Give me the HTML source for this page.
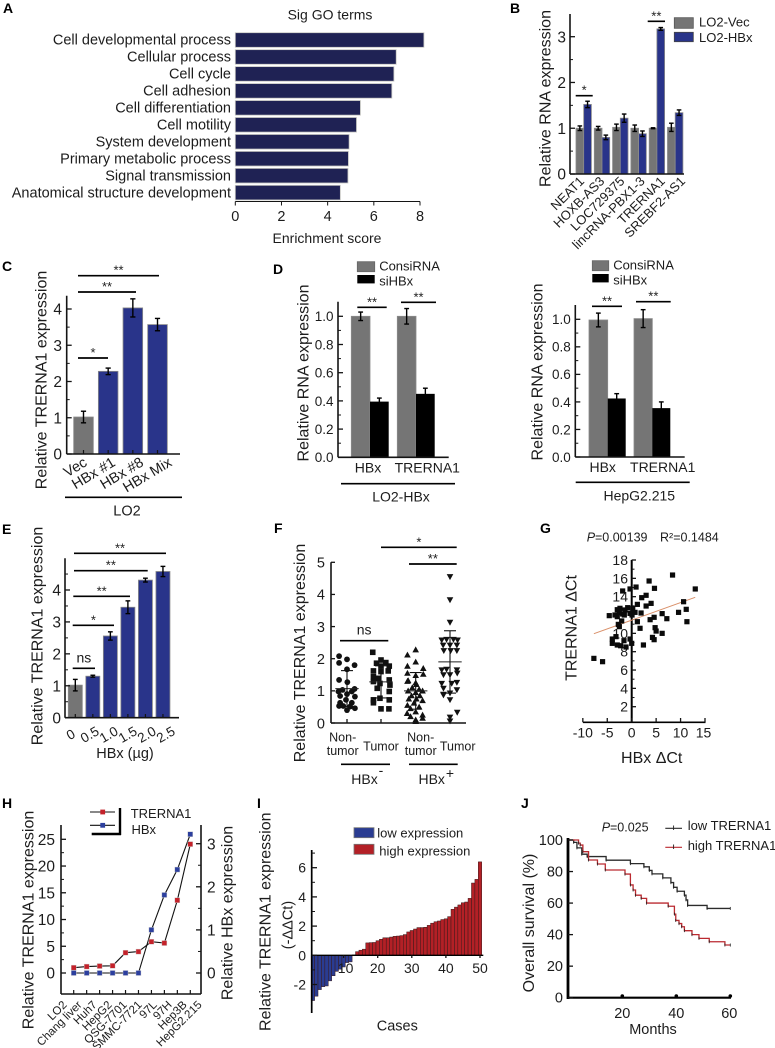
<!DOCTYPE html>
<html lang="en">
<head>
<meta charset="utf-8">
<title>TRERNA1 expression figure</title>
<style>
html,body{margin:0;padding:0;background:#fff}
svg{display:block;filter:blur(0.35px)}
text{font-family:"Liberation Sans",Arial,sans-serif;fill:#1c1c1c}
</style>
</head>
<body>
<svg id="fig" xmlns="http://www.w3.org/2000/svg" width="775" height="1048" viewBox="0 0 775 1048"></svg>
<script>
/* ---------- Panel A ---------- */
const goTerms = ["Cell developmental process","Cellular process","Cell cycle","Cell adhesion","Cell differentiation","Cell motility","System development","Primary metabolic process","Signal transmission","Anatomical structure development"];
const goScores = [8.17,6.97,6.87,6.78,5.42,5.25,4.93,4.9,4.88,4.55];
const goTicks = [0,2,4,6,8];
/* ---------- Panel B ---------- */
const rnaGenes = ["NEAT1","HOXB-AS3","LOC729375","lincRNA-PBX1-3","TRERNA1","SREBF2-AS1"];
const rnaVec = [1.0,1.0,1.02,1.0,1.0,1.02];
const rnaVecErr = [0.05,0.04,0.07,0.07,0.01,0.09];
const rnaHbx = [1.52,0.8,1.22,0.88,3.17,1.34];
const rnaHbxErr = [0.07,0.05,0.09,0.06,0.03,0.06];
const rnaTicks = [0,1,2,3];
/* ---------- Panel C ---------- */
const cLabels = ["Vec","HBx #1","HBx #8","HBx Mix"];
const cValues = [1.02,2.28,4.03,3.57];
const cErrors = [0.16,0.09,0.25,0.17];
const cTicks = [0,1,2,3,4];
/* ---------- Panel D ---------- */
const dLabels = ["HBx","TRERNA1"];
const d1Con = [1.0,1.0];
const d1ConErr = [0.03,0.055];
const d1Si = [0.395,0.45];
const d1SiErr = [0.025,0.04];
const d2Con = [0.995,1.005];
const d2ConErr = [0.05,0.065];
const d2Si = [0.425,0.355];
const d2SiErr = [0.035,0.045];
const dTicks = [0,0.2,0.4,0.6,0.8,1.0];
/* ---------- Panel E ---------- */
const eLabels = ["0","0.5","1.0","1.5","2.0","2.5"];
const eValues = [1.02,1.3,2.56,3.46,4.31,4.58];
const eErrors = [0.18,0.03,0.13,0.2,0.06,0.16];
const eTicks = [0,1,2,3,4];
/* ---------- Panel F ---------- */
const fTicks = [0,1,2,3,4,5];
const fNegNormal = [2.08,1.98,1.87,1.80,1.67,1.34,1.27,1.06,1.03,0.98,0.98,0.90,0.84,0.82,0.72,0.63,0.63,0.53,0.53,0.51,0.46,0.40];
const fNegNormalJitter = [-0.23,0,-0.23,0.22,0,-0.23,0.01,0.22,-0.13,0.14,-0.25,0,-0.2,0.23,-0.03,-0.2,0.14,-0.23,-0.11,0.09,0.23,0];
const fNegTumor = [2.20,1.96,1.86,1.88,1.77,1.77,1.62,1.62,1.60,1.44,1.39,1.34,1.29,1.23,1.18,1.08,0.98,0.77,0.72,0.72,0.63,0.44,0.44];
const fNegTumorJitter = [-0.24,0,-0.13,0.14,0.24,0,-0.22,0.21,0,-0.22,-0.08,0.24,-0.22,-0.03,0.26,-0.11,0.24,-0.03,-0.22,0.24,-0.22,0,0.23];
const fPosNormal = [2.28,2.12,1.90,1.77,1.70,1.55,1.52,1.48,1.32,1.30,1.25,1.20,1.10,1.05,1.00,1.00,0.95,0.85,0.85,0.75,0.75,0.70,0.62,0.55,0.50,0.45,0.35,0.30,0.25,0.20,0.15,0.10,0.05];
const fPosNormalJitter = [0,-0.24,0,-0.24,0.22,-0.24,0.22,0,-0.22,-0.24,0,0.02,-0.1,0.1,-0.22,0.2,0,-0.12,0.12,-0.2,0.02,0.2,-0.05,-0.24,0.1,-0.15,0,-0.25,0.2,-0.15,0.2,0,0];
const fPosTumor = [4.55,3.83,3.13,2.58,2.60,2.60,2.58,2.42,2.42,2.42,2.25,2.25,2.25,1.65,1.67,1.65,1.50,1.50,1.55,1.23,1.23,1.26,1.08,1.03,0.89,0.93,0.87,0.72,0.33,0.18,0.06];
const fPosTumorJitter = [0,0,0,-0.24,-0.1,0.1,0.22,-0.2,0,0.2,-0.18,0.02,0.2,-0.24,-0.1,0.2,-0.19,0,0.21,-0.24,0.05,0.2,-0.19,0.2,-0.19,0,-0.19,0,0.21,0,0];
const fMeans = [1.07,1.28,1.0,1.9];
const fSds = [0.56,0.5,0.57,0.97];
/* ---------- Panel G ---------- */
const gHbx = [-7.74,-5.96,-4.59,-3.97,-3.97,-3.22,-2.95,-2.26,-1.58,-1.16,-0.34,0,-1.85,-0.34,0.89,3.56,4.66,8.36,13.01,10.62,11.16,9.59,11.3,7.19,6.23,4.59,3.77,3.97,2.95,2.05,2.95,1.16,1.92,1.16,1.71,4.79,5,6.23,4.25,4.59,2.4,-2.4,-2.95,-1.37,-0.82,0.21,0.68,-0.34,-1.85,-2.53,-2.95,-2.05,-2.74,-2.53,-3.42,-1.51,0.07];
const gTrerna = [7.27,6.91,11.93,9.38,8.91,9.64,8.73,8.65,9.2,8.51,9.38,8.91,14.62,14.84,15.05,15.71,14.91,16.36,14.84,13.45,12.62,12.29,11.27,11.6,12.15,11.75,11.49,13.27,14.15,13.89,12.98,13.16,12.22,11.27,10.55,10.62,10.25,10,9.56,9.31,8.73,12.73,12.58,12.55,12.8,12.73,12.29,12.18,12.11,12.25,11.82,11.35,10.98,10.73,12,12,12];
const gFitX = [-7.74,13];
const gFitY = [9.96,13.93];
const gXTicks = [-10,-5,0,5,10,15];
const gYTicks = [2,4,6,8,10,14,16,18];
/* ---------- Panel H ---------- */
const hCells = ["LO2","Chang liver","Huh7","HepG2","QSG-7701","SMMC-7721","97L","97H","Hep3B","HepG2.215"];
const hTrerna = [1.0,1.2,1.3,1.35,3.8,4.0,5.85,5.6,13.6,24.1];
const hHbx = [0,0,0,0,0,0,1.0,1.81,2.4,3.22];
const hLeftTicks = [0,5,10,15,20,25];
const hRightTicks = [0,1,2,3];
/* ---------- Panel I ---------- */
const iValues = [-3.1,-2.8,-2.35,-2.15,-2.1,-1.75,-1.4,-1.1,-0.95,-0.8,-0.5,-0.45,0.03,0.25,0.35,0.42,0.85,0.87,0.88,1.0,1.1,1.2,1.2,1.25,1.3,1.32,1.35,1.42,1.6,1.7,1.8,1.9,1.9,1.92,2.05,2.2,2.3,2.35,2.45,2.5,2.65,3.15,3.3,3.45,3.6,3.65,3.9,4.95,5.2,6.4];
const iXTicks = [10,20,30,40,50];
const iYTicks = [-2,0,2,4,6];
/* ---------- Panel J ---------- */
const jLowMonths = [0,2,3.2,5,7,14,23,28,30,31,35,38,39,40.3,43,43.6,44.2,51.4,60];
const jLowSurvival = [100,98.5,95,91,89.5,87.2,85,83,80.7,78.5,76,73,70,67.5,65,62,58.5,56.6,56.6];
const jHighMonths = [0,3.8,4.4,5.4,7.5,10.8,13.7,21,23,24,24.9,27,29,37,39.3,39.8,41,42,43,45.8,48.4,52.2,58,60];
const jHighSurvival = [100,98,96.8,92.6,87.3,84.8,81,78.4,71.5,68.3,65,63,60,58,53,49,47,45,42.5,40,37.6,35.5,33.4,33.4];
const jXTicks = [20,40,60];
const jYTicks = [0,20,40,60,80,100];

/* ---------- helpers ---------- */
const NS = "http://www.w3.org/2000/svg";
const root = document.getElementById("fig");
let parent = root;
const INK = "#141414", GREY = "#757575", BLUE = "#29348a", EDGE = "#8a8a8a";

function make(tag, props, name) {
  const el = document.createElementNS(NS, tag);
  for (const k in props) el.setAttribute(k, props[k]);
  
  
  parent.appendChild(el);
  return el;
}
function panel(name) {
  parent = root;
  parent = make("g", {}, name);
}
function scale(d0, d1, r0, r1) {
  return v => r0 + (v - d0) * (r1 - r0) / (d1 - d0);
}
function line(x1, y1, x2, y2, w, color, name) {
  return make("line", {x1, y1, x2, y2, stroke: color || INK, "stroke-width": w || 1.5}, name);
}
function rect(x, y, w, h, fill, stroke, name, sw) {
  return make("rect", {x, y, width: w, height: h, fill, stroke: stroke || "none", "stroke-width": sw === undefined ? 0.8 : sw}, name);
}
function text(x, y, str, size, anchor, rot, name) {
  const p = {x, y, "font-size": size, "text-anchor": anchor || "start"};
  if (rot) p.transform = "rotate(" + rot + " " + x + " " + y + ")";
  const el = make("text", p, name);
  el.textContent = str;
  return el;
}
function ylabel(x, yc, str, name, size) {
  const s = size || 16;
  text(x + s * 0.35, yc, str, s, "middle", -90, name);
}
function letter(x, y, s) {
  const el = text(x, y, s, 14, "start", 0, "panel-letter-" + s.toLowerCase());
  el.setAttribute("font-weight", "bold");
  el.style.fill = "#000";
}
function yAxis(x, sy, ticks, top, bottom, labelX, size, name, side, digits) {
  const dir = side || 1;
  line(x, top, x, bottom, 1.6, INK, name + "-line");
  ticks.forEach(t => {
    line(x, sy(t), x + dir * 5, sy(t), 1.3, INK, name + "-tick");
    const lab = digits ? t.toFixed(digits) : String(t);
    text(labelX, sy(t) + size * 0.36, lab, size, dir > 0 ? "end" : "start", 0, name + "-label");
  });
  for (let i = 0; i + 1 < ticks.length; i++) {
    const m = (ticks[i] + ticks[i + 1]) / 2;
    line(x, sy(m), x + dir * 3, sy(m), 1, INK, name + "-minor-tick");
  }
}
function errBar(x, hi, lo, cap, name) {
  line(x, hi, x, lo, 1.4, "#000", name + "-stem");
  line(x - cap, hi, x + cap, hi, 1.4, "#000", name + "-cap-top");
  line(x - cap, lo, x + cap, lo, 1.4, "#000", name + "-cap-bottom");
}
function sig(x1, x2, y, label, name) {
  line(x1, y, x2, y, 1.7, "#000", name + "-line");
  const isStar = label.indexOf("*") === 0;
  text((x1 + x2) / 2, isStar ? y - 1 : y - 6, label, isStar ? 13 : 14, "middle", 0, name + "-label");
}

/* ---------- A ---------- */
panel("panel-a-go-terms");
letter(3, 13, "A");
text(330, 19.5, "Sig GO terms", 14, "middle", 0, "go-chart-title");
(function () {
  const sx = scale(0, 8, 235.3, 420);
  const step = 16.96, top = 32.7, h = 14.6;
  goScores.forEach((v, i) => {
    const y = top + step * i;
    rect(sx(0), y, sx(v) - sx(0), h, "#1f2254", "#c9c9c4", "go-bar-" + i, 0.8);
    text(231, y + 12, goTerms[i], 14.5, "end", 0, "go-term-label");
  });
  line(sx(0), 201.5, sx(8), 201.5, 1.1, INK, "go-x-axis");
  goTicks.forEach(t => {
    line(sx(t), 201.5, sx(t), 205.5, 1, INK, "go-x-tick");
    text(sx(t), 221, String(t), 14.5, "middle", 0, "go-x-tick-label");
  });
  text(327, 243, "Enrichment score", 14, "middle", 0, "go-x-axis-title");
})();

/* ---------- B ---------- */
panel("panel-b-rna-expression");
letter(510, 13, "B");
(function () {
  const sy = scale(0, 3, 174, 36.7);
  const x0 = 576, step = 18.3, w = 7.7;
  rnaGenes.forEach((g, i) => {
    const x = x0 + step * i;
    rect(x, sy(rnaVec[i]), w, sy(0) - sy(rnaVec[i]), GREY, EDGE, "rna-vec-bar-" + i);
    rect(x + w, sy(rnaHbx[i]), w, sy(0) - sy(rnaHbx[i]), BLUE, EDGE, "rna-hbx-bar-" + i);
    errBar(x + w / 2, sy(rnaVec[i] + rnaVecErr[i]), sy(rnaVec[i] - rnaVecErr[i]), 2.3, "rna-vec-error");
    errBar(x + w * 1.5, sy(rnaHbx[i] + rnaHbxErr[i]), sy(rnaHbx[i] - rnaHbxErr[i]), 2.3, "rna-hbx-error");
    text(585 + 20.2 * i, 182, g, 13, "end", -45, "rna-gene-label");
  });
  yAxis(570, sy, rnaTicks, 14, 174, 566, 15.5, "rna-y-axis", 1);
  line(570, 174, 684, 174, 1.6, INK, "rna-x-axis");
  ylabel(545, 98.5, "Relative RNA expression", "rna-y-axis-title");
  sig(575.7, 592.7, 95.7, "*", "rna-sig-neat1");
  sig(647.7, 665, 21.3, "**", "rna-sig-trerna1");
  rect(674.3, 17.7, 19, 10.6, GREY, "#555", "rna-legend-swatch-vec");
  text(699, 26.7, "LO2-Vec", 13, "start", 0, "rna-legend-vec");
  rect(674.3, 32.3, 19, 9.4, BLUE, "#444", "rna-legend-swatch-hbx");
  text(699, 42, "LO2-HBx", 13, "start", 0, "rna-legend-hbx");
})();

/* ---------- C ---------- */
panel("panel-c-lo2-clones");
letter(2, 271, "C");
(function () {
  const sy = scale(0, 4, 454, 309);
  const x0 = 73.7, step = 24.67, w = 19.6;
  cValues.forEach((v, i) => {
    const x = x0 + step * i;
    rect(x, sy(v), w, sy(0) - sy(v), i === 0 ? GREY : BLUE, EDGE, "lo2-bar-" + i);
    errBar(x + w / 2, sy(v + cErrors[i]), sy(v - cErrors[i]), 2.6, "lo2-error");
    line(x + w / 2, 454, x + w / 2, 450, 1.2, INK, "lo2-x-tick");
    text(88 + 28.3 * i, 465, cLabels[i], 14.5, "end", -31, "lo2-x-label");
  });
  yAxis(66.7, sy, cTicks, 295.7, 454, 62, 15.5, "lo2-y-axis", 1);
  line(66.7, 454, 180, 454, 1.6, INK, "lo2-x-axis");
  ylabel(40.7, 380, "Relative TRERNA1 expression", "lo2-y-axis-title");
  sig(78, 159, 275.7, "**", "lo2-sig-mix");
  sig(78, 136, 292, "**", "lo2-sig-8");
  sig(78, 108, 358, "*", "lo2-sig-1");
  line(65, 497.3, 182, 497.3, 1.6, "#000", "lo2-group-line");
  text(127, 515.7, "LO2", 14.5, "middle", 0, "lo2-group-label");
})();

/* ---------- D ---------- */
panel("panel-d-sirna");
letter(273, 274, "D");
function sirnaPanel(o) {
  const sy = scale(0, 1, o.y0, o.y1);
  dLabels.forEach((lab, i) => {
    const xg = o.grey[i], xb = o.black[i];
    rect(xg, sy(o.con[i]), xb - xg, o.y0 - sy(o.con[i]), GREY, EDGE, o.key + "-consirna-bar-" + i);
    rect(xb, sy(o.si[i]), o.w, o.y0 - sy(o.si[i]), "#000", "none", o.key + "-sihbx-bar-" + i);
    errBar((xg + xb) / 2, sy(o.con[i] + o.conErr[i]), sy(o.con[i] - o.conErr[i]), 2.4, o.key + "-consirna-error");
    errBar(xb + o.w / 2, sy(o.si[i] + o.siErr[i]), sy(o.si[i] - o.siErr[i]), 2.4, o.key + "-sihbx-error");
    text(o.labX[i], o.labY, lab, 14, "middle", 0, o.key + "-x-label");
  });
  yAxis(o.ax, sy, dTicks, o.top, o.y0, o.ax - 4.5, 13.5, o.key + "-y-axis", 1, 1);
  line(o.ax, o.y0, o.xEnd, o.y0, 1.6, INK, o.key + "-x-axis");
  ylabel(o.yl, o.ylc, "Relative RNA expression", o.key + "-y-axis-title");
  sig(o.s1[0], o.s1[1], o.s1[2], "**", o.key + "-sig-hbx");
  sig(o.s2[0], o.s2[1], o.s2[2], "**", o.key + "-sig-trerna1");
  rect(o.lx, o.ly1, o.lw, 10, GREY, "#666", o.key + "-legend-swatch-consirna");
  text(o.lx + o.lw + 4.5, o.ly1 + 9, "ConsiRNA", 13, "start", 0, o.key + "-legend-consirna");
  rect(o.lx, o.ly1 + 13.3, o.lw, 8.4, "#000", "none", o.key + "-legend-swatch-sihbx");
  text(o.lx + o.lw + 4.5, o.ly1 + 23.7, "siHBx", 13, "start", 0, o.key + "-legend-sihbx");
  line(o.gx[0], o.gy, o.gx[1], o.gy, 1.6, "#000", o.key + "-group-line");
  text(o.gc, o.gy + 18, o.group, 14, "middle", 0, o.key + "-group-label");
}
sirnaPanel({key:"lo2-hbx", y0:457.3, y1:316.3, ax:338, top:301.7, xEnd:448.7, grey:[351.3,397.3], black:[370,416], w:18.7,
  con:d1Con, conErr:d1ConErr, si:d1Si, siErr:d1SiErr, labX:[368,427.3], labY:472.7, yl:302.7, ylc:373,
  s1:[357.3,386.7,307.3], s2:[401,436,302.3], lx:357.3, ly1:261.7, lw:17.4, gx:[341,455], gy:483.7, gc:401, group:"LO2-HBx"});
sirnaPanel({key:"hepg2", y0:457, y1:319.3, ax:575.3, top:305, xEnd:684.7, grey:[589,634], black:[607.7,652.3], w:18,
  con:d2Con, conErr:d2ConErr, si:d2Si, siErr:d2SiErr, labX:[602.7,662.7], labY:472, yl:536.7, ylc:372,
  s1:[592,622,306.3], s2:[636,670.7,301.7], lx:592.3, ly1:260.7, lw:16.4, gx:[575.7,689.7], gy:482.3, gc:639.3, group:"HepG2.215"});

/* ---------- E ---------- */
panel("panel-e-dose");
letter(2, 534, "E");
(function () {
  const sy = scale(0, 4, 717.7, 590);
  const x0 = 68.3, step = 17.53, w = 14;
  eValues.forEach((v, i) => {
    const x = x0 + step * i;
    rect(x, sy(v), w, sy(0) - sy(v), i === 0 ? GREY : BLUE, EDGE, "dose-bar-" + i);
    errBar(x + w / 2, sy(v + eErrors[i]), sy(v - eErrors[i]), 2.4, "dose-error");
    line(x + w / 2, 717.7, x + w / 2, 714, 1.2, INK, "dose-x-tick");
    text(73 + 19 * i, 738.5, eLabels[i], 13.5, "middle", -30, "dose-x-label");
  });
  yAxis(65, sy, eTicks, 558.3, 717.7, 61, 15.5, "dose-y-axis", 1);
  line(65, sy(4.5), 68, sy(4.5), 1, INK, "dose-y-minor-top");
  line(65, 717.7, 179, 717.7, 1.6, INK, "dose-x-axis");
  ylabel(36.7, 636, "Relative TRERNA1 expression", "dose-y-axis-title");
  text(125, 758, "HBx (\u00b5g)", 14.5, "middle", 0, "dose-x-axis-title");
  sig(72.7, 95, 668.3, "ns", "dose-sig-05");
  sig(72.7, 114, 625.3, "*", "dose-sig-10");
  sig(73.3, 130, 596.3, "**", "dose-sig-15");
  sig(74, 147.7, 570.7, "**", "dose-sig-20");
  sig(74, 166, 553.3, "**", "dose-sig-25");
})();

/* ---------- F ---------- */
panel("panel-f-tissue-scatter");
letter(274, 533, "F");
(function () {
  const sy = scale(0, 5, 723, 562.3);
  const cats = [347, 381, 415.7, 450];
  const catWidth = 34.4;
  const circle = (x, y) => make("circle", {cx: x, cy: y, r: 2.9, fill: "#111"}, "neg-normal-point");
  const square = (x, y) => rect(x - 2.8, y - 2.8, 5.6, 5.6, "#111", "none", "neg-tumor-point");
  const up = (x, y) => make("polygon", {points: [x, y - 3.3, x - 3.3, y + 2.6, x + 3.3, y + 2.6].join(" "), fill: "#111"}, "pos-normal-point");
  const down = (x, y) => make("polygon", {points: [x, y + 3.3, x - 3.3, y - 2.6, x + 3.3, y - 2.6].join(" "), fill: "#111"}, "pos-tumor-point");
  const groups = [[fNegNormal, fNegNormalJitter, circle], [fNegTumor, fNegTumorJitter, square], [fPosNormal, fPosNormalJitter, up], [fPosTumor, fPosTumorJitter, down]];
  groups.forEach((g, c) => {
    g[0].forEach((v, i) => g[2](cats[c] + g[1][i] * catWidth, sy(v)));
    const cx = cats[c];
    line(cx - 11.7, sy(fMeans[c]), cx + 11.7, sy(fMeans[c]), 1, "#222", "group-mean-line");
    line(cx, sy(fMeans[c] + fSds[c]), cx, sy(Math.max(0, fMeans[c] - fSds[c])), 1.1, "#111", "group-sd-stem");
    line(cx - 6, sy(fMeans[c] + fSds[c]), cx + 6, sy(fMeans[c] + fSds[c]), 1.1, "#111", "group-sd-cap-top");
    line(cx - 6, sy(fMeans[c] - fSds[c]), cx + 6, sy(fMeans[c] - fSds[c]), 1.1, "#111", "group-sd-cap-bottom");
    line(cx, 723, cx, 719, 1.3, INK, "tissue-x-tick");
  });
  line(331, 562.3, 331, 723, 1.6, INK, "tissue-y-axis-line");
  fTicks.forEach(t => {
    line(331, sy(t), 335, sy(t), 1.3, INK, "tissue-y-tick");
    text(325, sy(t) + 5.3, String(t), 14.5, "end", 0, "tissue-y-label");
  });
  line(331, 723, 466, 723, 1.6, INK, "tissue-x-axis");
  ylabel(299.3, 653, "Relative TRERNA1 expression", "tissue-y-axis-title");
  text(342.7, 741.7, "Non-", 12.5, "middle", 0, "tissue-label-non");
  text(342.7, 755, "tumor", 12.5, "middle", 0, "tissue-label-tumor-word");
  text(381, 750.7, "Tumor", 12.5, "middle", 0, "tissue-label-tumor");
  text(420.7, 741.7, "Non-", 12.5, "middle", 0, "tissue-label-non-positive");
  text(420.7, 755, "tumor", 12.5, "middle", 0, "tissue-label-tumor-word-positive");
  text(457.7, 750.7, "Tumor", 12.5, "middle", 0, "tissue-label-tumor-positive");
  line(341, 764.3, 390, 764.3, 1.6, "#000", "hbx-negative-group-line");
  line(409, 764.3, 457.7, 764.3, 1.6, "#000", "hbx-positive-group-line");
  text(364.5, 784, "HBx", 14, "middle", 0, "hbx-negative-label");
  text(381, 775, "-", 14, "middle", 0, "hbx-negative-sign");
  text(431.7, 784, "HBx", 14, "middle", 0, "hbx-positive-label");
  text(450, 778, "+", 14, "middle", 0, "hbx-positive-sign");
  sig(381, 456.7, 547.3, "*", "tissue-sig-all");
  sig(409, 456.7, 564, "**", "tissue-sig-positive");
  sig(340, 388.3, 640.7, "ns", "tissue-sig-negative");
})();

/* ---------- G ---------- */
panel("panel-g-correlation");
letter(540, 533, "G");
(function () {
  const sx = scale(0, 15, 631.7, 705);
  const sy = scale(2, 18, 706.7, 560);
  const p = text(586.7, 541.7, "P", 12.5, "start", 0, "correlation-p-symbol");
  p.setAttribute("font-style", "italic");
  text(595, 541.7, "=0.00139", 12.5, "start", 0, "correlation-p-value");
  text(660, 541.7, "R\u00b2=0.1484", 12.5, "start", 0, "correlation-r-squared");
  line(631.7, 560, 631.7, 722.3, 2, "#000", "correlation-y-axis");
  line(583, 722.3, 705.5, 722.3, 1.6, "#000", "correlation-x-axis");
  gYTicks.forEach(t => {
    line(631.7, sy(t), 636, sy(t), 1.3, INK, "correlation-y-tick");
    text(628, sy(t) + 5, String(t), 14, "end", 0, "correlation-y-label");
  });
  [3, 5, 7, 9, 11, 13, 15, 17].forEach(t => line(631.7, sy(t), 634.5, sy(t), 1, INK, "correlation-y-minor-tick"));
  gXTicks.forEach(t => {
    line(sx(t), 722.3, sx(t), 718, 1.3, INK, "correlation-x-tick");
    text(sx(t) - (t === 15 ? 1.5 : 0), 737.5, String(t), 14, "middle", 0, "correlation-x-label");
  });
  line(sx(gFitX[0]), sy(gFitY[0]), sx(gFitX[1]), sy(gFitY[1]), 1, "#d98f68", "correlation-trend-line");
  gHbx.forEach((v, i) => rect(sx(v) - 2.6, sy(gTrerna[i]) - 2.6, 5.2, 5.2, "#0a0a0a", "none", "correlation-point"));
  ylabel(570.7, 628, "TRERNA1 \u0394Ct", "correlation-y-axis-title");
  text(651.7, 763, "HBx \u0394Ct", 16, "middle", 0, "correlation-x-axis-title");
})();

/* ---------- H ---------- */
panel("panel-h-cell-lines");
letter(2, 808, "H");
(function () {
  const sx = scale(0, 9, 73.7, 190.3);
  const syL = scale(0, 25, 973, 839.3);
  const syR = scale(0, 3, 973, 843.7);
  const path = (vals, s) => vals.map((v, i) => (i ? "L" : "M") + sx(i) + " " + s(v)).join(" ");
  yAxis(61, syL, hLeftTicks, 825, 994, 55, 15.5, "cell-left-axis", 1);
  yAxis(201, syR, hRightTicks, 825, 994, 207, 15.5, "cell-right-axis", -1);
  line(61, 994, 201, 994, 1.6, INK, "cell-x-axis");
  make("path", {d: path(hTrerna, syL), fill: "none", stroke: "#111", "stroke-width": 1.1}, "trerna1-line");
  make("path", {d: path(hHbx, syR), fill: "none", stroke: "#111", "stroke-width": 1.1}, "hbx-line");
  hCells.forEach((c, i) => {
    line(sx(i), 994, sx(i), 990, 1.2, INK, "cell-x-tick");
    text(67.5 + 15 * i, 1005.5, c, 11.5, "end", -45, "cell-x-label");
  });
  hHbx.forEach((v, i) => rect(sx(i) - 2.5, syR(v) - 2.5, 5, 5, "#2c3f9e", "#ccc", "hbx-marker", 0.4));
  hTrerna.forEach((v, i) => rect(sx(i) - 2.5, syL(v) - 2.5, 5, 5, "#c4222a", "#ccc", "trerna1-marker", 0.4));
  ylabel(28, 920, "Relative TRERNA1 expression", "cell-left-axis-title");
  ylabel(226.7, 913, "Relative HBx expression", "cell-right-axis-title");
  line(90, 812, 115, 812, 1.1, "#111", "cell-legend-line-trerna1");
  rect(100.3, 809.6, 4.8, 4.8, "#c4222a", "none", "cell-legend-marker-trerna1");
  line(90, 825.3, 115, 825.3, 1.1, "#111", "cell-legend-line-hbx");
  rect(100.3, 822.9, 4.8, 4.8, "#2c3f9e", "none", "cell-legend-marker-hbx");
  line(120, 808, 120, 835, 2.4, "#000", "cell-legend-frame-vertical");
  line(91.7, 834, 121, 834, 2.4, "#000", "cell-legend-frame-horizontal");
  text(130.7, 818, "TRERNA1", 13, "start", 0, "cell-legend-trerna1");
  text(131.5, 834, "HBx", 13, "start", 0, "cell-legend-hbx");
})();

/* ---------- I ---------- */
panel("panel-i-waterfall");
letter(257, 808, "I");
(function () {
  const sx = scale(50, 1, 480, 312.9);
  const sy = scale(0, 6, 955.3, 867.7);
  iValues.forEach((v, i) => {
    const top = Math.min(sy(v), sy(0));
    const h = Math.abs(sy(v) - sy(0));
    rect(sx(i + 1) - 1.7, top, 3.4, h, v < 0 ? "#2a3c92" : "#b32026", "#3a1a1a", "waterfall-bar-" + (i + 1), 0.5);
  });
  line(311.7, 850, 311.7, 1013, 1.7, "#000", "waterfall-y-axis");
  line(311.7, 955.3, 483.3, 955.3, 1.4, "#000", "waterfall-x-axis");
  iYTicks.forEach(t => {
    line(311.7, sy(t), 317, sy(t), 1.3, INK, "waterfall-y-tick");
    text(306, sy(t) + 5, String(t), 14, "end", 0, "waterfall-y-label");
  });
  [-1, 1, 3, 5, 7].forEach(t => line(311.7, sy(t), 315, sy(t), 1, INK, "waterfall-y-minor-tick"));
  iXTicks.forEach(t => {
    line(sx(t), 955.3, sx(t), 958, 1.3, INK, "waterfall-x-tick");
    text(sx(t) + (t === 10 ? 2 : 0), 973, String(t), 14, "middle", 0, "waterfall-x-label");
  });
  ylabel(265, 921.7, "Relative TRERNA1 expression", "waterfall-y-axis-title");
  ylabel(287.3, 925, "(-\u0394\u0394Ct)", "waterfall-y-axis-subtitle", 14.5);
  text(397.3, 1030.7, "Cases", 14.5, "middle", 0, "waterfall-x-axis-title");
  rect(354, 827.7, 20, 10, "#2a3c92", "#777", "waterfall-legend-swatch-low");
  text(377.3, 837.3, "low expression", 13, "start", 0, "waterfall-legend-low");
  rect(354, 844.3, 20, 10, "#b32026", "#777", "waterfall-legend-swatch-high");
  text(379.3, 855.3, "high expression", 13, "start", 0, "waterfall-legend-high");
})();

/* ---------- J ---------- */
panel("panel-j-survival");
letter(521, 808, "J");
(function () {
  const sx = scale(0, 60, 568.3, 730.3);
  const sy = scale(0, 100, 997.7, 840);
  const stepPath = (m, s) => m.map((t, i) => i === 0 ? "M" + sx(t) + " " + sy(s[i]) : "H" + sx(t) + " V" + sy(s[i])).join(" ");
  make("path", {d: stepPath(jLowMonths, jLowSurvival), fill: "none", stroke: "#2b2b2b", "stroke-width": 1.3}, "survival-low-curve");
  make("path", {d: stepPath(jHighMonths, jHighSurvival), fill: "none", stroke: "#bb2a30", "stroke-width": 1.3}, "survival-high-curve");
  jLowMonths.forEach((t, i) => line(sx(t), sy(jLowSurvival[i]) - 1.5, sx(t), sy(jLowSurvival[i]) + 1.5, 0.8, "#222", "survival-low-censor"));
  jHighMonths.forEach((t, i) => line(sx(t), sy(jHighSurvival[i]) - 1.5, sx(t), sy(jHighSurvival[i]) + 1.5, 0.8, "#222", "survival-high-censor"));
  line(568, 838, 568, 999, 2.8, "#000", "survival-y-axis");
  line(567, 997.7, 731, 997.7, 2.2, "#000", "survival-x-axis");
  jYTicks.forEach(t => {
    line(568, sy(t), 573, sy(t), 1.3, INK, "survival-y-tick");
    text(563, sy(t) + 5, String(t), 14.5, "end", 0, "survival-y-label");
  });
  jXTicks.forEach(t => {
    make("circle", {cx: sx(t), cy: 996, r: 1.8, fill: "#000"}, "survival-x-tick");
    text(sx(t) - (t === 60 ? 1 : 0), 1018, String(t), 14.5, "middle", 0, "survival-x-label");
  });
  ylabel(528.3, 923, "Overall survival (%)", "survival-y-axis-title");
  text(653, 1034, "Months", 14.5, "middle", 0, "survival-x-axis-title");
  const p = text(601.7, 831.7, "P", 12.5, "start", 0, "survival-p-symbol");
  p.setAttribute("font-style", "italic");
  text(610, 831.7, "=0.025", 12.5, "start", 0, "survival-p-value");
  line(665.3, 828.3, 682, 828.3, 1.2, "#2b2b2b", "survival-legend-line-low");
  line(673.6, 825.5, 673.6, 830, 0.9, "#222", "survival-legend-tick-low");
  text(687.7, 830, "low TRERNA1", 13, "start", 0, "survival-legend-low");
  line(665.3, 847.3, 682, 847.3, 1.2, "#bb2a30", "survival-legend-line-high");
  line(673.6, 844.5, 673.6, 849, 0.9, "#222", "survival-legend-tick-high");
  text(687.7, 850, "high TRERNA1", 13, "start", 0, "survival-legend-high");
})();
</script>
</body>
</html>
